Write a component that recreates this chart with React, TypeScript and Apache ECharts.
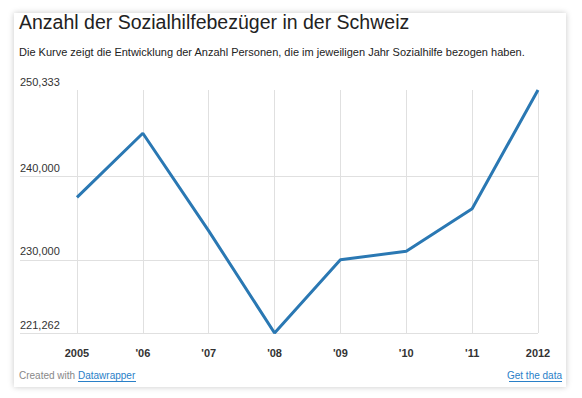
import React, { useEffect, useRef } from "react";
import * as echarts from "echarts";

const years = [2005, 2006, 2007, 2008, 2009, 2010, 2011, 2012];
const xLabels = ["2005", "'06", "'07", "'08", "'09", "'10", "'11", "2012"];
const recipients = [237495, 245156, 233484, 221262, 230019, 231046, 236133, 250333];
const yTicks = [221262, 230000, 240000, 250333];
const gridY = [221262, 230000, 240000];

const titleText = "Anzahl der Sozialhilfebezüger in der Schweiz";
const subtitleText =
  "Die Kurve zeigt die Entwicklung der Anzahl Personen, die im jeweiligen Jahr Sozialhilfe bezogen haben.";

const FONT = "'Liberation Sans', Arial, Helvetica, sans-serif";

export default function App() {
  const ref = useRef<HTMLDivElement>(null);
  useEffect(() => {
    if (!ref.current) return;
    const chart = echarts.init(ref.current, undefined, { renderer: "svg" });
    const gridColor = "#e0e0e0";
    chart.setOption({
      animation: false,
      textStyle: { fontFamily: FONT },
      grid: { left: 20, right: 44, top: 90, bottom: 65, outerBoundsMode: "none" },
      xAxis: {
        type: "value",
        min: 2004.135,
        max: 2012,
        axisLine: { show: false },
        axisTick: { show: false },
        splitLine: { show: false },
        axisLabel: {
          customValues: years,
          showMinLabel: true,
          showMaxLabel: true,
          margin: 14,
          fontSize: 11,
          fontWeight: "bold",
          color: "#333",
          fontFamily: FONT,
          formatter: (v: number) => {
            const i = years.indexOf(Math.round(v));
            return i >= 0 ? xLabels[i] : "";
          },
        },
      },
      yAxis: {
        type: "value",
        min: 221262,
        max: 250333,
        axisLine: { show: false },
        axisTick: { show: false },
        splitLine: { show: false },
        axisLabel: {
          customValues: yTicks,
          inside: true,
          showMinLabel: true,
          showMaxLabel: true,
          margin: 0,
          verticalAlign: "bottom",
          padding: [0, 0, 3, 0],
          fontSize: 11,
          color: "#333",
          fontFamily: FONT,
          formatter: (v: number) => v.toLocaleString("en-US"),
        },
      },
      series: [
        {
          type: "line",
          data: years.map((y, i) => [y, recipients[i]]),
          symbol: "none",
          lineStyle: { color: "#2a78b3", width: 3 },
          z: 3,
          markLine: {
            silent: true,
            symbol: "none",
            z: 1,
            label: { show: false },
            lineStyle: { color: gridColor, width: 1, type: "solid" },
            emphasis: { disabled: true },
            data: [
              ...gridY.map((v) => ({ yAxis: v })),
              ...years.map((y) => ({ xAxis: y })),
            ],
          },
        },
      ],
      graphic: [
        {
          type: "text",
          left: 19,
          top: 12,
          style: { text: titleText, fontSize: 19.5, fill: "#222", fontFamily: FONT },
        },
        {
          type: "text",
          left: 19,
          top: 46,
          style: { text: subtitleText, fontSize: 11, fill: "#222", fontFamily: FONT },
        },
        {
          type: "text",
          left: 19,
          top: 370,
          style: { text: "Created with", fontSize: 10, fill: "#888", fontFamily: FONT },
        },
        {
          type: "text",
          left: 78,
          top: 370,
          style: { text: "Datawrapper", fontSize: 10, fill: "#2a80c8", fontFamily: FONT },
        },
        {
          type: "line",
          shape: { x1: 78, y1: 381.5, x2: 136, y2: 381.5 },
          style: { stroke: "#2a80c8", lineWidth: 1 },
        },
        {
          type: "text",
          right: 20,
          top: 370,
          style: { text: "Get the data", fontSize: 10, fill: "#2a80c8", fontFamily: FONT },
        },
        {
          type: "line",
          shape: { x1: 509, y1: 381.5, x2: 562, y2: 381.5 },
          style: { stroke: "#2a80c8", lineWidth: 1 },
        },
      ],
    });
    return () => chart.dispose();
  }, []);

  return (
    <div style={{ position: "fixed", left: 0, top: 0, width: 582, height: 398, background: "#fff" }}>
      <div
        style={{
          position: "absolute",
          left: 14,
          top: 13,
          width: 552,
          height: 374,
          background: "#fff",
          boxShadow: "0 0 6px rgba(0,0,0,0.22)",
        }}
      />
      <div ref={ref} style={{ position: "absolute", left: 0, top: 0, width: 582, height: 398 }} />
    </div>
  );
}
